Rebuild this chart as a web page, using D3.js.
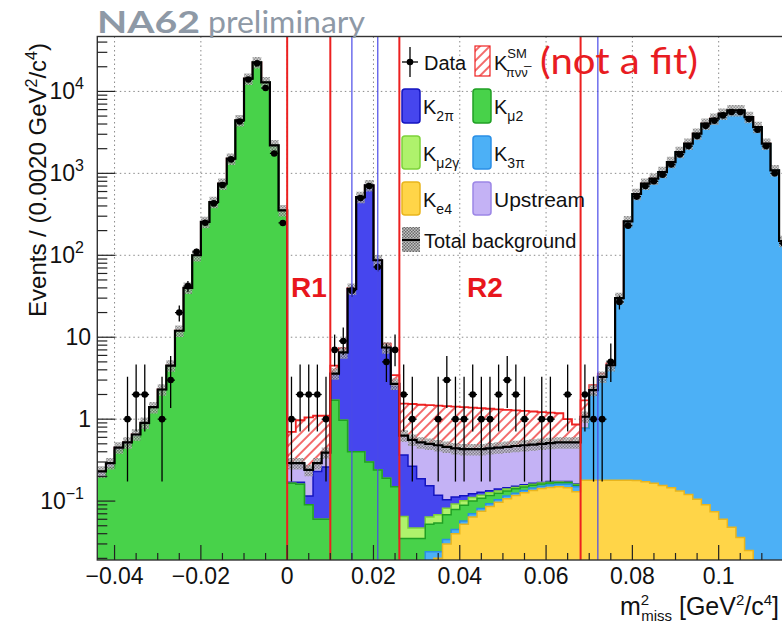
<!DOCTYPE html>
<html><head><meta charset="utf-8">
<script src="https://cdn.jsdelivr.net/npm/d3@7"></script>
<style>body{margin:0;background:#fff}svg{display:block}</style>
</head><body>
<svg id="c" width="782" height="626"></svg>
<script>
// ---------- binning / axis ----------
const binStart = -0.044, binWidth = 0.002;
const xTicks = [-0.04,-0.02,0,0.02,0.04,0.06,0.08,0.1];
const xTickLabels = ["\u22120.04","\u22120.02","0","0.02","0.04","0.06","0.08","0.1"];
const yDecades = [-1,0,1,2,3,4];
const regionLines = [0,0.01,0.026,0.068];
const refLines = [0.015,0.021,0.072];

// ---------- series (events per bin, 80 bins from -0.044) ----------
const ke4 = [
0,0,0,0,0,0,0,0,0,0,
0,0,0,0,0,0,0,0,0,0,
0,0,0,0,0,0,0,0,0,0,
0,0,0,0,0,0,0,0,0,0.02,
0.03,0.04,0.052,0.064,0.075,0.086,0.097,0.107,0.117,0.126,
0.135,0.142,0.147,0.15,0.145,0.13,0.18,0.18,0.18,0.18,
0.18,0.18,0.178,0.172,0.165,0.155,0.145,0.133,0.12,0.105,
0.09,0.074,0.06,0.048,0.036,0.025,0,0,0,0];
const k3pi = [
0,0,0,0,0,0,0,0,0,0,
0,0,0,0,0,0,0,0,0,0,
0,0,0,0,0,0,0,0,0,0,
0,0,0,0,0,0,0,0,0.024,0.004,
0.004,0.005,0.005,0.006,0.006,0.007,0.007,0.008,0.008,0.009,
0.009,0.01,0.01,0.01,0.015,0.02,0.59,1.78,2.8,4.07,
29.5,259,559,747,860,1036,1373,1819,2299,3049,
4039,4639,5349,5869,5869,4859,3669,2299,1089,149];
const kmu2 = [
0.195,0.255,0.415,0.485,0.615,0.86,1.36,2.26,4.46,11.96,
40,100,255,447,748,1510,4430,14300,22700,12900,
2200,354,0.165,0.16,0.09,0.06,0.06,1.7,0.97,0.4,
0.4,0.3,0.24,0.19,0.15,0.035,0.035,0.035,0.028,0.03,
0.034,0.034,0.032,0.03,0.027,0.024,0.021,0.018,0.016,0.014,
0.012,0.01,0.009,0.008,0.007,0.006,0,0,0,0,
0,0,0,0,0,0,0,0,0,0,
0,0,0,0,0,0,0,0,0,0];
const kmu2g = [
0,0,0,0,0,0,0,0,0,0,
0,0,0,0,0,0,0,0,0,0,
0,0,0,0,0,0,0,0,0,0,
0,0,0,0,0,0.03,0.012,0.012,0.012,0.014,
0.014,0.013,0.012,0.011,0.01,0.009,0.008,0.007,0.006,0.005,
0.005,0.004,0.004,0.003,0.003,0.003,0,0,0,0,
0,0,0,0,0,0,0,0,0,0,
0,0,0,0,0,0,0,0,0,0];
const k2pi = [
0,0,0,0,0,0,0,0,0,0,
0,0,0,0,0,0,0,0,0,0,
0,0,0.005,0.01,0.025,0.17,0.2,1.75,5.4,38.4,
513,713,86.5,7.1,2.35,0.3,0.22,0.14,0.09,0.05,
0.022,0.02,0.015,0.012,0.01,0.008,0.007,0.006,0.005,0.004,
0.004,0.003,0.003,0.003,0.003,0.003,0,0,0,0,
0,0,0,0,0,0,0,0,0,0,
0,0,0,0,0,0,0,0,0,0];
const upstream = [
0.035,0.035,0.035,0.035,0.035,0.04,0.04,0.04,0.04,0.04,
0.05,0.05,0.05,0.05,0.05,0.05,0.05,0.06,0.06,0.06,
0.06,0.06,0.12,0.12,0.125,0.06,0.13,0.15,0.15,0.2,
0.5,0.5,0.3,0.2,0.2,0.265,0.293,0.333,0.346,0.362,
0.356,0.328,0.314,0.307,0.302,0.306,0.31,0.314,0.318,0.322,
0.325,0.331,0.337,0.346,0.347,0.358,0.3,0.3,0.3,0.3,
0.3,0.4,0.4,0.4,0.4,0.4,0.4,0.4,0.4,0.4,
0.4,0.4,0.4,0.4,0.4,0.4,0.4,0.4,0.4,0.4];
const signal = [
0,0,0,0,0,0,0,0,0,0,
0,0,0,0,0,0,0,0,0,0,
0,0,0.41,0.68,0.81,0.81,0.71,0.9,0.85,0.8,
0.8,0.8,0.8,0.85,0.75,0.92,0.97,0.98,0.98,0.98,
0.98,0.98,0.97,0.95,0.93,0.9,0.87,0.84,0.81,0.78,
0.75,0.72,0.69,0.66,0.48,0.34,0.63,0.34,0.32,0.25,
0,0,0,0,0,0,0,0,0,0,
0,0,0,0,0,0,0,0,0,0];
const data = [
0,0,0,1,2,2,0,1,3,20,
42,110,250,430,720,1480,4300,14000,22000,11000,
1750,248,1,2,2,2,1,7,9,37,
500,700,72,5,7,2,1,0,0,1,
3,1,1,2,1,1,2,3,2,1,
0,1,1,0,2,0,2,1,1,5,
27,230,520,700,800,960,1280,1700,2150,2850,
3800,4400,5100,5600,5600,4600,3400,2150,1000,140];
// 68% Poisson (Garwood) intervals for small counts
const garwoodLow  = [0,0.173,0.708,1.367,2.086,2.840,3.620,4.419,5.237,6.066,6.906];
const garwoodHigh = [1.841,3.300,4.638,5.918,7.163,8.382,9.584,10.77,11.94,13.11,14.27];
const bkgRelUnc = 0.16;

// ---------- layout ----------
const PL=97.3, PR=783.4, PT=36.5, PB=560;
const x = d3.scaleLinear().domain([-0.044,0.115]).range([PL,PR]);
const y = d3.scaleLog().domain([0.0191,46800]).range([PB,PT]);
const yv = v => y(Math.max(v,0.005));
const FONT = "'Liberation Sans', Arial, Helvetica, sans-serif";

const svg = d3.select("#c");
const defs = svg.append("defs");
defs.append("clipPath").attr("id","pc").append("rect")
  .attr("x",PL).attr("y",PT).attr("width",PR-PL).attr("height",PB-PT);
const hp = defs.append("pattern").attr("id","hatch").attr("patternUnits","userSpaceOnUse")
  .attr("width",7).attr("height",7).attr("patternTransform","rotate(45)");
hp.append("line").attr("x1",1).attr("y1",0).attr("x2",1).attr("y2",7)
  .attr("stroke","#ee2a2a").attr("stroke-width",1.4);
const cp = defs.append("pattern").attr("id","checker").attr("patternUnits","userSpaceOnUse")
  .attr("width",3).attr("height",3);
cp.append("rect").attr("width",3).attr("height",3).attr("fill","#c4c4c4");
cp.append("rect").attr("width",1.5).attr("height",1.5).attr("fill","#6a6a6a");
cp.append("rect").attr("x",1.5).attr("y",1.5).attr("width",1.5).attr("height",1.5).attr("fill","#6a6a6a");

// ---------- grid ----------
const grid = svg.append("g").attr("stroke","#8a8a8a").attr("stroke-dasharray","1.5,3").attr("stroke-width",1);
xTicks.forEach(t=>grid.append("line").attr("x1",x(t)).attr("x2",x(t)).attr("y1",PT).attr("y2",PB));
yDecades.forEach(d=>grid.append("line").attr("x1",PL).attr("x2",PR).attr("y1",y(Math.pow(10,d))).attr("y2",y(Math.pow(10,d))));

// ---------- stack ----------
const layers = [
 {key:"ke4", vals:ke4, fill:"#ffd548", line:"#e9b51c"},
 {key:"k3pi", vals:k3pi, fill:"#4cb0f6", line:"#2a8fe6"},
 {key:"kmu2", vals:kmu2, fill:"#48d24a", line:"#20a024"},
 {key:"kmu2g", vals:kmu2g, fill:"#aff26c", line:"#7dd23a"},
 {key:"k2pi", vals:k2pi, fill:"#4646ee", line:"#1414c0"},
 {key:"up", vals:upstream, fill:"#c4b2f5", line:"#9c86e6"},
 {key:"sig", vals:signal, fill:"url(#hatch)", line:"#ee2222"}
];
const rows = data.map((_,i)=>{const r={lo:binStart+i*binWidth}; layers.forEach(L=>r[L.key]=L.vals[i]); return r;});
const series = d3.stack().keys(layers.map(L=>L.key))(rows);
const stepPts = vals => { const p=[]; vals.forEach((v,i)=>{const lo=binStart+i*binWidth; p.push({x:lo,v},{x:lo+binWidth,v});}); return p; };
const areaGen = d3.area().x(d=>x(d.x)).y0(PB+5).y1(d=>yv(d.v));
const lineGen = d3.line().x(d=>x(d.x)).y(d=>yv(d.v));
const plot = svg.append("g").attr("clip-path","url(#pc)");
for (let k=layers.length-1;k>=0;k--){
  const tops = series[k].map(s=>s[1]);
  const pts = stepPts(tops);
  if (k===layers.length-1) plot.append("path").attr("d",areaGen(pts)).attr("fill","#fff");
  plot.append("path").attr("d",areaGen(pts)).attr("fill",layers[k].fill);
  plot.append("path").attr("d",lineGen(pts)).attr("fill","none").attr("stroke",layers[k].line).attr("stroke-width",k===layers.length-1?1.8:1.5);
}
// total background with uncertainty band
const totalBkg = series[layers.length-2].map(s=>s[1]);
const bandGen = d3.area().x(d=>x(d.x)).y0(d=>yv(d.v*(1-bkgRelUnc))).y1(d=>yv(d.v*(1+bkgRelUnc)));
plot.append("path").attr("d",bandGen(stepPts(totalBkg))).attr("fill","url(#checker)").attr("opacity",0.75);
plot.append("path").attr("d",lineGen(stepPts(totalBkg))).attr("fill","none").attr("stroke","#000").attr("stroke-width",2.2);

// ---------- vertical lines ----------
refLines.forEach(v=>svg.append("line").attr("x1",x(v)).attr("x2",x(v)).attr("y1",PT).attr("y2",PB).attr("stroke","#4a4ae8").attr("stroke-width",1.2));
regionLines.forEach(v=>svg.append("line").attr("x1",x(v)).attr("x2",x(v)).attr("y1",PT).attr("y2",PB).attr("stroke","#ec2020").attr("stroke-width",2));

// ---------- data ----------
const dg = plot.append("g");
data.forEach((n,i)=>{
  if(n<=0) return;
  const c = binStart+(i+0.5)*binWidth;
  const lo = n<=10 ? garwoodLow[n] : n-Math.sqrt(n);
  const hi = n<=10 ? garwoodHigh[n] : n+Math.sqrt(n);
  dg.append("line").attr("x1",x(c)).attr("x2",x(c)).attr("y1",yv(lo)).attr("y2",yv(hi)).attr("stroke","#000").attr("stroke-width",1.3);
  dg.append("line").attr("x1",x(c-binWidth/2)).attr("x2",x(c+binWidth/2)).attr("y1",yv(n)).attr("y2",yv(n)).attr("stroke","#000").attr("stroke-width",1.3);
  dg.append("circle").attr("cx",x(c)).attr("cy",yv(n)).attr("r",3.3).attr("fill","#000");
});

// ---------- frame & ticks ----------
svg.append("rect").attr("x",PL).attr("y",PT).attr("width",PR-PL).attr("height",PB-PT).attr("fill","none").attr("stroke","#333").attr("stroke-width",1.4);
const tk = svg.append("g").attr("stroke","#222").attr("stroke-width",1.2);
for (let v=-0.04; v<=0.1151; v+=0.005){
  const vv = Math.round(v*1000)/1000;
  const major = xTicks.some(t=>Math.abs(t-vv)<1e-9);
  tk.append("line").attr("x1",x(vv)).attr("x2",x(vv)).attr("y1",PB).attr("y2",PB-(major?15:7));
}
for (let d=-2; d<=4; d++){
  for (let m=1; m<=9; m++){
    const v = m*Math.pow(10,d);
    if (v<0.0191 || v>46800) continue;
    tk.append("line").attr("x1",PL).attr("x2",PL+(m===1?18:10)).attr("y1",y(v)).attr("y2",y(v));
  }
}
// tick labels
xTicks.forEach((t,i)=>svg.append("text").attr("x",x(t)).attr("y",584).attr("text-anchor","middle")
  .attr("font-family",FONT).attr("font-size",23).attr("fill","#111").text(xTickLabels[i]));
yDecades.forEach(d=>{
  const t = svg.append("text").attr("y",y(Math.pow(10,d))+8).attr("font-family",FONT).attr("font-size",23).attr("fill","#111").attr("text-anchor","end");
  if (d===0){ t.attr("x",91).text("1"); }
  else if (d===1){ t.attr("x",91).text("10"); }
  else { t.attr("x",84).text("10"); t.append("tspan").attr("dy",-10).attr("font-size",16).text(d<0?"\u2212"+(-d):String(d)); }
});
// axis titles
const yt = svg.append("text").attr("transform","translate(46,43) rotate(-90)").attr("text-anchor","end")
  .attr("font-family",FONT).attr("font-size",24).attr("fill","#111");
yt.append("tspan").text("Events / (0.0020 GeV");
yt.append("tspan").attr("dy",-9).attr("font-size",16).text("2");
yt.append("tspan").attr("dy",9).text("/c");
yt.append("tspan").attr("dy",-9).attr("font-size",16).text("4");
yt.append("tspan").attr("dy",9).text(")");
const xt = svg.append("text").attr("x",779).attr("y",615).attr("text-anchor","end")
  .attr("font-family",FONT).attr("font-size",25).attr("fill","#111");
xt.append("tspan").text("m");
xt.append("tspan").attr("dy",-10).attr("font-size",15).text("2");
xt.append("tspan").attr("dx",-8).attr("dy",16).attr("font-size",15).text("miss");
xt.append("tspan").attr("dy",-6).text(" [GeV");
xt.append("tspan").attr("dy",-10).attr("font-size",15).text("2");
xt.append("tspan").attr("dy",10).text("/c");
xt.append("tspan").attr("dy",-10).attr("font-size",15).text("4");
xt.append("tspan").attr("dy",10).text("]");

// ---------- title ----------
svg.append("text").attr("x",97).attr("y",33).attr("font-family","Lato, 'Open Sans', sans-serif").attr("font-weight","bold")
  .attr("font-size",30).attr("fill","#8e99a6").attr("textLength",103).attr("lengthAdjust","spacingAndGlyphs").text("NA62");
svg.append("text").attr("x",208).attr("y",33).attr("font-family","Lato, 'Open Sans', sans-serif")
  .attr("font-size",30).attr("fill","#8e99a6").attr("textLength",157).attr("lengthAdjust","spacingAndGlyphs").text("preliminary");

// ---------- region labels ----------
[["R1",291],["R2",467]].forEach(([s,px])=>svg.append("text").attr("x",px).attr("y",297).attr("font-family",FONT)
  .attr("font-weight","bold").attr("font-size",28).attr("fill","#e8161c").text(s));

// ---------- legend ----------
const lg = svg.append("g").attr("font-family",FONT).attr("fill","#111");
lg.append("line").attr("x1",410).attr("x2",410).attr("y1",47).attr("y2",77).attr("stroke","#000").attr("stroke-width",1.3);
lg.append("line").attr("x1",402).attr("x2",418).attr("y1",62).attr("y2",62).attr("stroke","#000").attr("stroke-width",1.3);
lg.append("circle").attr("cx",410).attr("cy",62).attr("r",3.3).attr("fill","#000");
lg.append("text").attr("x",424).attr("y",70).attr("font-size",20).text("Data");
lg.append("rect").attr("x",475).attr("y",46).attr("width",15).attr("height",30).attr("fill","url(#hatch)").attr("stroke","#ee2222").attr("stroke-width",1.2);
const ks = lg.append("text").attr("x",494).attr("y",70).attr("font-size",20);
ks.append("tspan").text("K");
ks.append("tspan").attr("dy",-12).attr("font-size",13).text("SM");
ks.append("tspan").attr("dx",-21).attr("dy",19).attr("font-size",13).text("\u03c0\u03bd\u03bd\u0305");
lg.append("text").attr("x",540).attr("y",74).attr("font-family","Lato, 'Open Sans', sans-serif").attr("font-size",37)
  .attr("fill","#e81c22").attr("textLength",158).attr("lengthAdjust","spacingAndGlyphs").text("(not a fit)");
const legItems = [
 {c:layers[4], x:402, y:89, h:34, sub:"2\u03c0"},
 {c:layers[2], x:473, y:89, h:34, sub:"\u03bc2"},
 {c:layers[3], x:402, y:136, h:33, sub:"\u03bc2\u03b3"},
 {c:layers[1], x:473, y:136, h:33, sub:"3\u03c0"},
 {c:layers[0], x:402, y:182, h:33, sub:"e4"},
 {c:layers[5], x:473, y:182, h:33, label:"Upstream"}
];
legItems.forEach(it=>{
  lg.append("rect").attr("x",it.x).attr("y",it.y).attr("width",18).attr("height",it.h).attr("rx",3)
    .attr("fill",it.c.fill).attr("stroke",it.c.line).attr("stroke-width",1.5);
  const t = lg.append("text").attr("x",it.x+21).attr("y",it.y+it.h/2+8).attr("font-size",it.label?21:20);
  if (it.label) t.text(it.label);
  else { t.append("tspan").text("K"); t.append("tspan").attr("dy",7).attr("font-size",14).text(it.sub); }
});
lg.append("rect").attr("x",402).attr("y",227).attr("width",18).attr("height",25).attr("fill","url(#checker)");
lg.append("line").attr("x1",402).attr("x2",420).attr("y1",240).attr("y2",240).attr("stroke","#000").attr("stroke-width",2);
lg.append("text").attr("x",424).attr("y",248).attr("font-size",20).text("Total background");
</script>
</body></html>
